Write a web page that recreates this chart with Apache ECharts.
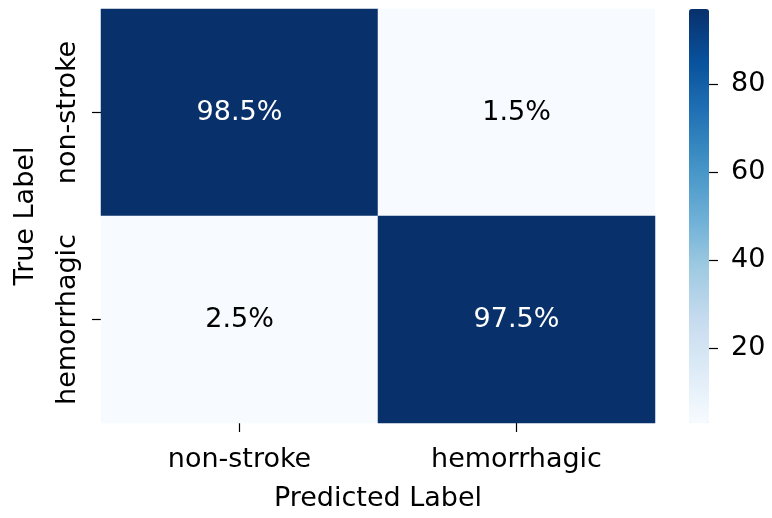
<!DOCTYPE html>
<html>
<head>
<meta charset="utf-8">
<script src="https://cdn.jsdelivr.net/npm/echarts@6/dist/echarts.min.js"></script>
<style>html,body{margin:0;padding:0;background:#fff;}#c{width:772px;height:518px;}</style>
</head>
<body>
<div id="c"></div>
<script>
const predictedLabels = ['non-stroke', 'hemorrhagic'];
const trueLabels = ['non-stroke', 'hemorrhagic'];
const matrixRows = [
  [98.5, 1.5],
  [2.5, 97.5]
];
const colorbarTicks = [20, 40, 60, 80];
const colorMin = 3;
const colorMax = 97;

const FONT = 'DejaVu Sans';
const FS = 27;
const blues = ['#f7fbff','#deebf7','#c6dbef','#9ecae1','#6baed6','#4292c6','#2171b5','#08519c','#08306b'];

const cells = [];
matrixRows.forEach((row, i) => {
  row.forEach((v, j) => {
    cells.push({ value: [j, i, v], label: { color: v > 50 ? '#ffffff' : '#000000' } });
  });
});

const chart = echarts.init(document.getElementById('c'), null, { renderer: 'canvas' });
chart.setOption({
  animation: false,
  backgroundColor: '#ffffff',
  textStyle: { fontFamily: FONT },
  grid: [
    { left: 101, right: 117, top: 9, bottom: 95 },
    { left: 689, width: 20, top: 9, bottom: 95 }
  ],
  xAxis: [
    {
      gridIndex: 0, type: 'category', data: predictedLabels,
      name: 'Predicted Label', nameLocation: 'middle', nameGap: 62,
      nameTextStyle: { fontSize: FS, color: '#000', fontFamily: FONT },
      axisLine: { show: false },
      axisTick: { show: true, alignWithLabel: true, interval: 0, length: 9, lineStyle: { color: '#000', width: 1.2 } },
      axisLabel: { fontSize: FS, color: '#000', margin: 23, interval: 0, hideOverlap: false, fontFamily: FONT },
      splitLine: { show: false }
    },
    { gridIndex: 1, type: 'category', data: [''], show: false }
  ],
  yAxis: [
    {
      gridIndex: 0, type: 'category', data: trueLabels, inverse: true,
      name: 'True Label', nameLocation: 'middle', nameGap: 62, nameRotate: 90,
      nameTextStyle: { fontSize: FS, color: '#000', fontFamily: FONT },
      axisLine: { show: false },
      axisTick: { show: true, alignWithLabel: true, interval: 0, length: 9, lineStyle: { color: '#000', width: 1.2 } },
      axisLabel: { fontSize: FS, color: '#000', rotate: 90, margin: 20, interval: 0, hideOverlap: false, fontFamily: FONT },
      splitLine: { show: false }
    },
    {
      gridIndex: 1, type: 'value', position: 'right', min: colorMin, max: colorMax,
      axisLine: { show: false },
      splitLine: { show: false },
      axisTick: { show: true, length: 9, customValues: colorbarTicks, lineStyle: { color: '#000', width: 1.2 } },
      axisLabel: { show: true, fontSize: FS, color: '#000', margin: 22, customValues: colorbarTicks, fontFamily: FONT }
    }
  ],
  visualMap: {
    type: 'continuous', min: colorMin, max: colorMax, seriesIndex: 0,
    calculable: false, realtime: false,
    orient: 'vertical', left: 689, top: 9, padding: 0,
    itemWidth: 20, itemHeight: 414,
    text: ['', ''], showLabel: false,
    inRange: { color: blues }
  },
  series: [
    {
      type: 'heatmap', xAxisIndex: 0, yAxisIndex: 0, data: cells,
      label: { show: true, fontSize: FS, fontFamily: FONT, formatter: p => p.value[2].toFixed(1) + '%' },
      itemStyle: { borderWidth: 0 },
      emphasis: { disabled: true }
    },
    { type: 'line', xAxisIndex: 1, yAxisIndex: 1, data: [], silent: true }
  ]
});
</script>
</body>
</html>
